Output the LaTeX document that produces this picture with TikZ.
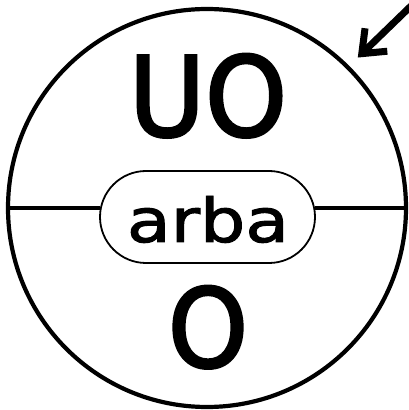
\documentclass[tikz,border=0pt]{standalone}
\usepackage{fontspec}
\setmainfont{DejaVu Sans}
\newfontfamily\heavyfont{DejaVu Sans}[FakeBold=1.6]
\newfontfamily\heavierfont{DejaVu Sans}[FakeBold=2.6]
\usetikzlibrary{arrows.meta}
\begin{document}
\begin{tikzpicture}[x=1pt,y=1pt,
  ring/.style={circle, draw, line width=4.2pt, minimum size=398pt, inner sep=0pt, outer sep=0pt},
  pill/.style={draw, line width=1.8pt, rounded corners=46pt, minimum width=215pt, minimum height=92pt, inner sep=0pt, outer sep=0pt},
  bigtext/.style={inner sep=0pt, outer sep=0pt, font=\heavierfont},
  midtext/.style={inner sep=0pt, outer sep=0pt, font=\heavyfont},
  divider/.style={line width=3.8pt},
  pointer/.style={line width=7pt, line cap=round, line join=round, -{Straight Barb[length=20pt,width=32pt,line width=7pt]}}]
\useasboundingbox (0,0) rectangle (409,410);
\node[ring] (circ) at (207,202) {};
\node[pill] (box) at (207.5,193) {};
\node[midtext, anchor=base] (arba) at (208,168) {\resizebox{162pt}{46pt}{arba}};
\node[bigtext, anchor=base] (uo) at (208,274) {\resizebox{158pt}{82pt}{UO}};
\node[bigtext, anchor=base] (o) at (208,43) {\resizebox{80pt}{81pt}{O}};
\draw[divider] (circ.west) -- (circ.west -| box.west);
\draw[divider] (circ.east -| box.east) -- (circ.east);
\coordinate (tail) at (411,404);
\draw[pointer, shorten >=14pt] (tail) -- (circ.north east);
\end{tikzpicture}
\end{document}
